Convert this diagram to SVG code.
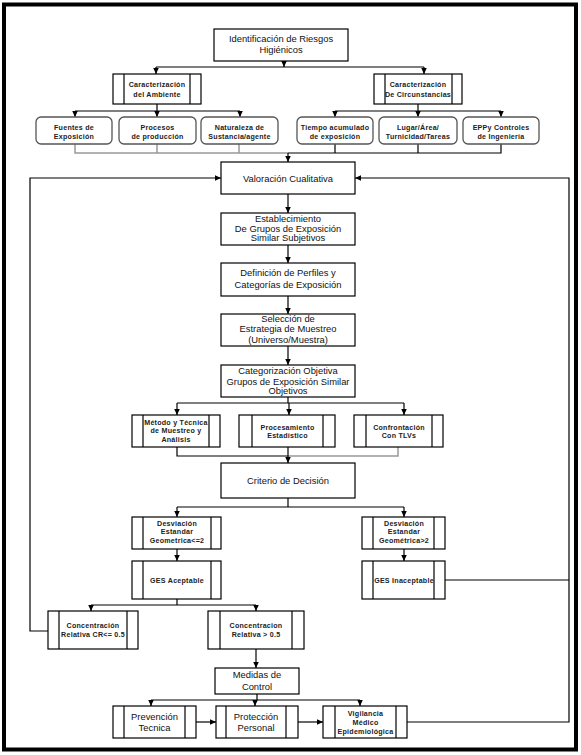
<svg xmlns="http://www.w3.org/2000/svg" width="581" height="755" viewBox="0 0 581 755">
<defs>
<marker id="ah" viewBox="0 0 8 8" refX="8" refY="4" markerWidth="6" markerHeight="6" markerUnits="userSpaceOnUse" orient="auto">
<path d="M0,0.3 L8,4 L0,7.7 z" fill="#000"/>
</marker>
<style>
.box{fill:#fff;stroke:#000;stroke-width:1.2}
.rbox{fill:#fff;stroke:#555;stroke-width:1.3}
.in{stroke:#000;stroke-width:1.2}
.t{font-family:"Liberation Sans",Arial,sans-serif;font-size:9.4px;fill:#111;text-anchor:middle}
.s{font-family:"Liberation Sans",Arial,sans-serif;font-size:7.1px;font-weight:bold;fill:#222;text-anchor:middle;letter-spacing:0.25px}
.c{fill:none;stroke:#000;stroke-width:1.2}
.a{fill:none;stroke:#000;stroke-width:1.2;marker-end:url(#ah)}
.g{fill:none;stroke:#999;stroke-width:1.5}
</style>
</defs>
<rect x="0" y="0" width="581" height="755" fill="#fff"/>
<rect x="4" y="4.5" width="572" height="745" fill="none" stroke="#000" stroke-width="4"/>

<g id="connectors">
<path class="a" d="M284,61 V67"/>
<path class="c" d="M156,67 H424"/>
<path class="a" d="M156,67 V74"/>
<path class="a" d="M424,67 V74"/>
<path class="c" d="M157,104 V111 M75,111 H240"/>
<path class="a" d="M75,111 V117"/>
<path class="a" d="M157,111 V117"/>
<path class="a" d="M240,111 V117"/>
<path class="c" d="M418,104 V111 M335,111 H501"/>
<path class="a" d="M335,111 V117"/>
<path class="a" d="M418,111 V117"/>
<path class="a" d="M501,111 V117"/>
<path class="g" d="M75,144 V153 H288 M157,144 V153 M239,144 V153"/>
<path class="c" d="M335,144 V153 M418,144 V153 M501,144 V153 H288"/>
<path class="a" d="M288,153 V162"/>
<path class="a" d="M288,194 V213"/>
<path class="a" d="M288,245 V263"/>
<path class="a" d="M288,296 V314"/>
<path class="a" d="M288,346 V365"/>
<path class="c" d="M288,397 V403 M177,403 H404"/>
<path class="a" d="M177,403 V415"/>
<path class="a" d="M289,403 V415"/>
<path class="a" d="M404,403 V415"/>
<path class="g" d="M288,456 H398 V447"/>
<path class="c" d="M177,447 V456 H288"/>
<path class="a" d="M288,447 V463"/>
<path class="c" d="M288,498 V507 M177,507 H404"/>
<path class="a" d="M177,507 V517"/>
<path class="a" d="M404,507 V517"/>
<path class="a" d="M177,549 V561"/>
<path class="a" d="M404,549 V561"/>
<path class="c" d="M177,599 V605 M91,605 H256"/>
<path class="a" d="M91,605 V611"/>
<path class="a" d="M256,605 V611"/>
<path class="a" d="M256,649 V668"/>
<path class="c" d="M257,694 V700 M151,700 H360"/>
<path class="a" d="M151,700 V706"/>
<path class="a" d="M255,700 V706"/>
<path class="a" d="M360,700 V706"/>
<path class="a" d="M196,722 H216"/>
<path class="a" d="M298,722 H323"/>
<path class="a" d="M48,631 H30 V178 H221"/>
<path class="a" d="M407,722 H569 V178 H355"/>
<path class="c" d="M445,580 H569"/>
</g>

<g id="n-identificacion">
<rect class="box" x="214" y="29" width="134" height="32"/>
<text class="t" x="281" y="41.5">Identificación de Riesgos</text>
<text class="t" x="281" y="52.5">Higiénicos</text>
</g>

<g id="n-ambiente">
<rect class="box" x="113" y="74" width="88" height="30"/>
<line class="in" x1="124" y1="74" x2="124" y2="104"/><line class="in" x1="190" y1="74" x2="190" y2="104"/>
<text class="s" x="157" y="86.5">Caracterización</text>
<text class="s" x="157" y="96.5">del Ambiente</text>
</g>

<g id="n-circunstancias">
<rect class="box" x="374" y="74" width="88" height="30"/>
<line class="in" x1="385" y1="74" x2="385" y2="104"/><line class="in" x1="452" y1="74" x2="452" y2="104"/>
<text class="s" x="418" y="86.5">Caracterización</text>
<text class="s" x="418" y="96.5">De Circunstancias</text>
</g>

<g id="n-fuentes">
<rect class="rbox" x="36" y="117" width="76" height="27" rx="5"/>
<text class="s" x="74" y="129.5">Fuentes de</text>
<text class="s" x="74" y="138.5">Exposición</text>
</g>
<g id="n-procesos">
<rect class="rbox" x="119" y="117" width="77" height="27" rx="5"/>
<text class="s" x="157.5" y="129.5">Procesos</text>
<text class="s" x="157.5" y="138.5">de producción</text>
</g>
<g id="n-naturaleza">
<rect class="rbox" x="201" y="117" width="77" height="27" rx="5"/>
<text class="s" x="239.5" y="129.5">Naturaleza de</text>
<text class="s" x="239.5" y="138.5">Sustancia/agente</text>
</g>
<g id="n-tiempo">
<rect class="rbox" x="297" y="117" width="76" height="27" rx="5"/>
<text class="s" x="335" y="129.5">Tiempo acumulado</text>
<text class="s" x="335" y="138.5">de exposición</text>
</g>
<g id="n-lugar">
<rect class="rbox" x="379" y="117" width="78" height="27" rx="5"/>
<text class="s" x="418" y="129.5">Lugar/Área/</text>
<text class="s" x="418" y="138.5">Turnicidad/Tareas</text>
</g>
<g id="n-epp">
<rect class="rbox" x="463" y="117" width="76" height="27" rx="5"/>
<text class="s" x="501" y="129.5">EPPy Controles</text>
<text class="s" x="501" y="138.5">de Ingeniería</text>
</g>

<g id="n-valoracion">
<rect class="box" x="221" y="162" width="134" height="32"/>
<text class="t" x="288" y="181.5">Valoración Cualitativa</text>
</g>

<g id="n-establecimiento">
<rect class="box" x="221" y="213" width="134" height="32"/>
<text class="t" x="288" y="222">Establecimiento</text>
<text class="t" x="288" y="231.5">De Grupos de Exposición</text>
<text class="t" x="288" y="241">Similar Subjetivos</text>
</g>

<g id="n-definicion">
<rect class="box" x="221" y="263" width="134" height="33"/>
<text class="t" x="288" y="276">Definición de Perfiles y</text>
<text class="t" x="288" y="288">Categorías de Exposición</text>
</g>

<g id="n-seleccion">
<rect class="box" x="221" y="314" width="134" height="32"/>
<text class="t" x="288" y="321.5">Selección de</text>
<text class="t" x="288" y="332">Estrategia de Muestreo</text>
<text class="t" x="288" y="342.5">(Universo/Muestra)</text>
</g>

<g id="n-categorizacion">
<rect class="box" x="221" y="365" width="134" height="32"/>
<text class="t" x="288" y="374">Categorización Objetiva</text>
<text class="t" x="288" y="384.5">Grupos de Exposición Similar</text>
<text class="t" x="288" y="394">Objetivos</text>
</g>

<g id="n-metodo">
<rect class="box" x="132" y="415" width="88" height="32"/>
<line class="in" x1="143" y1="415" x2="143" y2="447"/><line class="in" x1="209" y1="415" x2="209" y2="447"/>
<text class="s" x="176" y="424.5">Método y Técnica</text>
<text class="s" x="176" y="433">de Muestreo y</text>
<text class="s" x="176" y="441.5">Análisis</text>
</g>

<g id="n-procesamiento">
<rect class="box" x="239" y="415" width="96" height="32"/>
<line class="in" x1="252" y1="415" x2="252" y2="447"/><line class="in" x1="323" y1="415" x2="323" y2="447"/>
<text class="s" x="287.5" y="429.5">Procesamiento</text>
<text class="s" x="287.5" y="438">Estadístico</text>
</g>

<g id="n-confrontacion">
<rect class="box" x="354" y="415" width="89" height="32"/>
<line class="in" x1="366" y1="415" x2="366" y2="447"/><line class="in" x1="432" y1="415" x2="432" y2="447"/>
<text class="s" x="399" y="429.5">Confrontación</text>
<text class="s" x="399" y="438">Con TLVs</text>
</g>

<g id="n-criterio">
<rect class="box" x="221" y="463" width="134" height="35"/>
<text class="t" x="288" y="484">Criterio de Decisión</text>
</g>

<g id="n-desv-le2">
<rect class="box" x="132" y="517" width="89" height="32"/>
<line class="in" x1="143" y1="517" x2="143" y2="549"/><line class="in" x1="211" y1="517" x2="211" y2="549"/>
<text class="s" x="177" y="525.5">Desviación</text>
<text class="s" x="177" y="534">Estandar</text>
<text class="s" x="177" y="542.5">Geometrica&lt;=2</text>
</g>

<g id="n-desv-gt2">
<rect class="box" x="362" y="517" width="83" height="32"/>
<line class="in" x1="373" y1="517" x2="373" y2="549"/><line class="in" x1="434" y1="517" x2="434" y2="549"/>
<text class="s" x="404" y="525.5">Desviación</text>
<text class="s" x="404" y="534">Estandar</text>
<text class="s" x="404" y="542.5">Geométrica&gt;2</text>
</g>

<g id="n-ges-aceptable">
<rect class="box" x="132" y="561" width="89" height="38"/>
<line class="in" x1="143" y1="561" x2="143" y2="599"/><line class="in" x1="211" y1="561" x2="211" y2="599"/>
<text class="s" x="177" y="582.5">GES Aceptable</text>
</g>

<g id="n-ges-inaceptable">
<rect class="box" x="362" y="561" width="83" height="38"/>
<line class="in" x1="373" y1="561" x2="373" y2="599"/><line class="in" x1="434" y1="561" x2="434" y2="599"/>
<text class="s" x="404" y="582.5">GES Inaceptable</text>
</g>

<g id="n-conc-le">
<rect class="box" x="48" y="611" width="90" height="38"/>
<line class="in" x1="59" y1="611" x2="59" y2="649"/><line class="in" x1="127" y1="611" x2="127" y2="649"/>
<text class="s" x="93" y="627.5">Concentración</text>
<text class="s" x="93" y="636.5">Relativa CR&lt;= 0.5</text>
</g>

<g id="n-conc-gt">
<rect class="box" x="208" y="611" width="96" height="38"/>
<line class="in" x1="220" y1="611" x2="220" y2="649"/><line class="in" x1="292" y1="611" x2="292" y2="649"/>
<text class="s" x="256" y="627.5">Concentracion</text>
<text class="s" x="256" y="636.5">Relativa &gt; 0.5</text>
</g>

<g id="n-medidas">
<rect class="box" x="215" y="668" width="84" height="26"/>
<text class="t" x="257" y="678">Medidas de</text>
<text class="t" x="257" y="689.5">Control</text>
</g>

<g id="n-prevencion">
<rect class="box" x="113" y="706" width="83" height="32"/>
<line class="in" x1="124" y1="706" x2="124" y2="738"/><line class="in" x1="185" y1="706" x2="185" y2="738"/>
<text class="t" x="154.5" y="719.5">Prevención</text>
<text class="t" x="154.5" y="731">Tecnica</text>
</g>

<g id="n-proteccion">
<rect class="box" x="216" y="706" width="82" height="32"/>
<line class="in" x1="226" y1="706" x2="226" y2="738"/><line class="in" x1="286" y1="706" x2="286" y2="738"/>
<text class="t" x="256" y="719.5">Protección</text>
<text class="t" x="256" y="731">Personal</text>
</g>

<g id="n-vigilancia">
<rect class="box" x="323" y="706" width="84" height="32"/>
<line class="in" x1="335" y1="706" x2="335" y2="738"/><line class="in" x1="396" y1="706" x2="396" y2="738"/>
<text class="s" x="365.5" y="715.5">Vigilancia</text>
<text class="s" x="365.5" y="724.5">Médico</text>
<text class="s" x="365.5" y="733.5">Epidemiológica</text>
</g>
</svg>
